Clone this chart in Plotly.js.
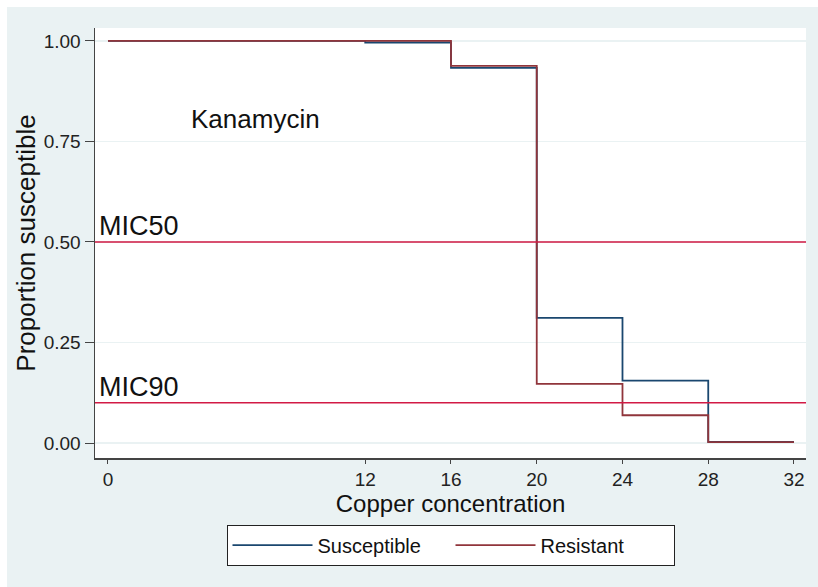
<!DOCTYPE html>
<html>
<head>
<meta charset="utf-8">
<script src="https://cdn.plot.ly/plotly-3.0.1.min.js"></script>
<style>
  html, body { margin: 0; padding: 0; background: #ffffff; width: 818px; height: 587px; overflow: hidden; }
  #chart { position: absolute; left: 7px; top: 7px; width: 811px; height: 580px; }
</style>
</head>
<body>
<div id="chart"></div>
<script>
// Data
const seriesNames = ["Susceptible", "Resistant"];
const susceptibleX = [0, 12, 16, 20, 24, 28, 32];
const susceptibleY = [1.0, 0.996, 0.933, 0.311, 0.155, 0.003, 0.003];
const resistantX = [0, 16, 20, 24, 28, 32];
const resistantY = [1.0, 0.938, 0.147, 0.069, 0.002, 0.002];
const micLevels = [0.5, 0.1];
const micLabels = ["MIC50", "MIC90"];
const xTickVals = [0, 12, 16, 20, 24, 28, 32];
const yTickVals = [0, 0.25, 0.5, 0.75, 1.0];
const drugLabel = "Kanamycin";

const font = "Arial, 'Liberation Sans', sans-serif";

const traces = [
  {x: susceptibleX, y: susceptibleY, name: seriesNames[0], type: "scatter", mode: "lines",
   line: {shape: "hv", color: "#1a476f", width: 1.8}},
  {x: resistantX, y: resistantY, name: seriesNames[1], type: "scatter", mode: "lines",
   line: {shape: "hv", color: "#90353b", width: 1.8}}
];

const shapes = micLevels.map(v => ({
  type: "line", xref: "paper", x0: 0, x1: 1, yref: "y", y0: v, y1: v,
  line: {color: "#d21a45", width: 1.6}, layer: "above"
}));

const annotations = [
  {text: drugLabel, x: 3.78, y: 0.806, xref: "x", yref: "y", xanchor: "left", yanchor: "middle",
   showarrow: false, font: {family: font, size: 26, color: "#111"}},
  {text: micLabels[0], x: -0.51, y: micLevels[0] + 0.04, xref: "x", yref: "y", xanchor: "left", yanchor: "middle",
   showarrow: false, font: {family: font, size: 27, color: "#111"}},
  {text: micLabels[1], x: -0.51, y: micLevels[1] + 0.04, xref: "x", yref: "y", xanchor: "left", yanchor: "middle",
   showarrow: false, font: {family: font, size: 27, color: "#111"}}
];

const layout = {
  width: 811, height: 580,
  paper_bgcolor: "#eaf2f3",
  plot_bgcolor: "#ffffff",
  margin: {l: 88, r: 12, t: 21, b: 129, pad: 0},
  font: {family: font, color: "#222"},
  showlegend: true,
  legend: {
    orientation: "h", x: 0.5, xanchor: "center", y: -0.155, yanchor: "top",
    bgcolor: "#ffffff", bordercolor: "#222", borderwidth: 1,
    font: {family: font, size: 20, color: "#111"},
    itemwidth: 80,
    entrywidth: 128, entrywidthmode: "pixels"
  },
  xaxis: {
    range: [-0.606, 32.56], tickmode: "array", tickvals: xTickVals,
    ticks: "outside", ticklen: 4, tickcolor: "#444", tickwidth: 1,
    showgrid: false, zeroline: false, showline: true, linecolor: "#444", linewidth: 1.5,
    tickfont: {family: font, size: 19, color: "#222"},
    title: {text: "Copper concentration", font: {family: font, size: 24, color: "#111"}, standoff: 0}
  },
  yaxis: {
    range: [-0.0373, 1.032], tickmode: "array", tickvals: yTickVals, tickformat: ".2f",
    ticks: "outside", ticklen: 9, tickcolor: "#444", tickwidth: 1,
    showgrid: true, gridcolor: "#eaf2f3", gridwidth: 1.8,
    zeroline: false, showline: true, linecolor: "#444", linewidth: 1.5,
    tickfont: {family: font, size: 19, color: "#222"},
    title: {text: "Proportion susceptible", font: {family: font, size: 26, color: "#111"}, standoff: 0}
  },
  shapes: shapes,
  annotations: annotations
};

Plotly.newPlot("chart", traces, layout, {displayModeBar: false, staticPlot: true});
</script>
</body>
</html>
